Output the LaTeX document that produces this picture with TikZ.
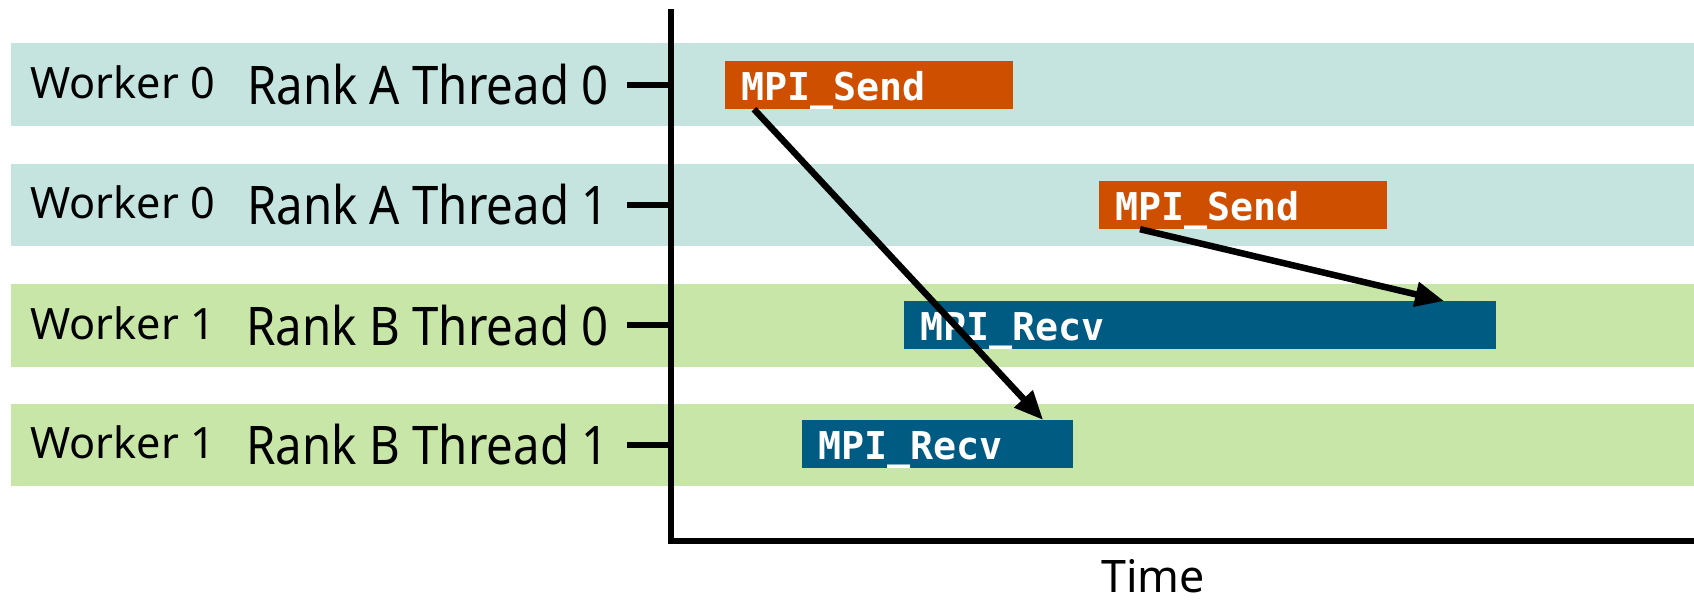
\documentclass[tikz,border=0pt]{standalone}
\usepackage{fontspec}
\setmainfont{Noto Sans}
\setmonofont{DejaVu Sans Mono}
\newfontfamily\rankfont[FakeStretch=0.89]{Noto Sans}
\usepackage{xcolor}
\usepackage{tikz}
\usetikzlibrary{arrows.meta,positioning}

\definecolor{laneA}{RGB}{197,228,223}
\definecolor{laneB}{RGB}{201,230,169}
\definecolor{sendc}{RGB}{207,79,0}
\definecolor{recvc}{RGB}{0,91,130}

\begin{document}
\begin{tikzpicture}[
    x=0.02cm, y=-0.02cm,
    wlbl/.style={inner sep=0pt, anchor=base west, font=\fontsize{24.6}{29}\selectfont},
    rlbl/.style={inner sep=0pt, anchor=base east, font=\rankfont\fontsize{30.3}{36}\selectfont},
    call/.style={rectangle, anchor=north west, inner xsep=0.32cm, inner ysep=0pt, text height=0.79cm, text depth=0.16cm, align=left, text=white, font=\ttfamily\bfseries\fontsize{21.8}{26}\selectfont},
    sendbox/.style={call, fill=sendc},
    recvbox/.style={call, fill=recvc},
    ax/.style={line width=3pt, line join=miter},
    arr/.style={-{Triangle[length=0.58cm, width=0.48cm]}, line width=3.7pt}
]
    \useasboundingbox (0,0) rectangle (1694,600);

    % lanes
    \fill [laneA] (11,43) rectangle (1694,126);
    \fill [laneA] (11,164) rectangle (1694,246);
    \fill [laneB] (11,284) rectangle (1694,367);
    \fill [laneB] (11,404) rectangle (1694,486);

    % lane labels
    \node [wlbl] (w0a) at (30,98) {Worker 0};
    \node [wlbl] (w0b) at (30,218) {Worker 0};
    \node [wlbl] (w1a) at (30,339) {Worker 1};
    \node [wlbl] (w1b) at (30,458) {Worker 1};
    \node [rlbl] (ra0) at (609,104) {Rank A Thread 0};
    \node [rlbl] (ra1) at (609,224) {Rank A Thread 1};
    \node [rlbl] (rb0) at (609,345) {Rank B Thread 0};
    \node [rlbl] (rb1) at (609,464) {Rank B Thread 1};

    % axis
    \draw [ax] (671,9) -- (671,541) -- (1694,541);
    \draw [ax] (627,85) -- (671,85);
    \draw [ax] (627,205) -- (671,205);
    \draw [ax] (627,325) -- (671,325);
    \draw [ax] (627,445) -- (671,445);
    \node [anchor=base, inner sep=0pt, font=\fontsize{25.5}{30}\selectfont] (time) at (1153,592) {Time};

    % calls
    \node [sendbox, text width=5.12cm] (send1) at (725,61) {MPI\_Send};
    \node [sendbox, text width=5.12cm] (send2) at (1099,181) {MPI\_Send};
    \node [recvbox, text width=11.2cm] (recv1) at (904,301) {MPI\_Recv};
    \node [recvbox, text width=4.78cm] (recv2) at (802,420) {MPI\_Recv};

    % messages
    \draw [arr] ([xshift=0.58cm]send1.south west) -- ([xshift=-0.61cm]recv2.north east);
    \draw [arr] ([xshift=0.82cm]send2.south west) -- ([xshift=-1.05cm]recv1.north east);
\end{tikzpicture}
\end{document}
